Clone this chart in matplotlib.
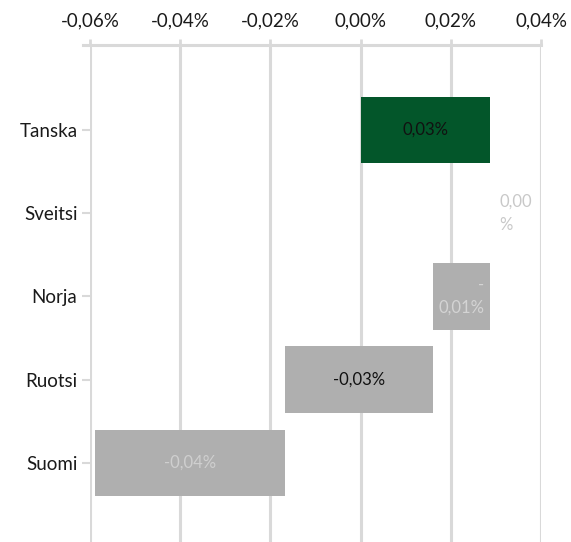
import matplotlib.pyplot as plt
from matplotlib.ticker import FuncFormatter

plt.rcParams['font.family'] = ['Lato', 'DejaVu Sans']

# Waterfall: change of each country, in percent
maat = ['Tanska', 'Sveitsi', 'Norja', 'Ruotsi', 'Suomi']
muutos = [0.0287, 0.0, -0.0127, -0.0328, -0.0421]
tick_arvot = [-0.06, -0.04, -0.02, 0.00, 0.02, 0.04]

# cumulative starting points
alku = []
s = 0.0
for m in muutos:
    alku.append(s)
    s += m

vari_palkki = ['#03562A', '#AFAFAF', '#AFAFAF', '#AFAFAF', '#AFAFAF']
vari_teksti = ['#111111', '#C8C8C8', '#D4D4D4', '#111111', '#CFCFCF']
grid_c = '#D9D9D9'


def fmt(v):
    return f'{v:.2f}%'.replace('.', ',')


fig = plt.figure(figsize=(5.71, 5.42), dpi=100)
ax = fig.add_axes([0.1576, 0.0, 0.7899, 0.917])

y = list(range(len(maat)))
ax.barh(y, muutos, left=alku, height=0.8, color=vari_palkki, zorder=3)

ax.set_xlim(-0.06, 0.04)
ax.set_ylim(4.95, -1.02)
ax.set_yticks(y)
ax.set_yticklabels(maat, fontsize=13.5, color='#1a1a1a')
ax.set_xticks(tick_arvot)
ax.xaxis.set_major_formatter(FuncFormatter(lambda v, p: fmt(v)))
ax.xaxis.tick_top()
ax.tick_params(axis='x', labelsize=13.5, labelcolor='#1a1a1a', length=4,
               width=2, color=grid_c, pad=7)
ax.tick_params(axis='y', length=6, width=1.5, color=grid_c, pad=3)

ax.grid(axis='x', color=grid_c, linewidth=2.2, zorder=0)
ax.set_axisbelow(True)
for sp in ['left', 'right', 'bottom', 'top']:
    ax.spines[sp].set_visible(False)
ax.plot([-0.015, 1.0], [1.0, 1.0], transform=ax.transAxes, color=grid_c,
        linewidth=2.2, clip_on=False, zorder=1)

# data labels
for i, (a, m) in enumerate(zip(alku, muutos)):
    txt = fmt(m)
    keski = a + m / 2
    if i == 1:
        ax.text(a + m + 0.002, i, txt.replace(',00', ',00\n'), ha='left',
                va='center', fontsize=12, color=vari_teksti[i], linespacing=1.6)
    elif i == 2:
        ax.text(keski, i, '-\n' + txt.lstrip('-'), ha='center',
                va='center', fontsize=12, color=vari_teksti[i],
                multialignment='right', linespacing=1.5)
    else:
        ax.text(keski, i, txt, ha='center', va='center', fontsize=12,
                color=vari_teksti[i], zorder=4)

fig.savefig('out.png', dpi=100)
